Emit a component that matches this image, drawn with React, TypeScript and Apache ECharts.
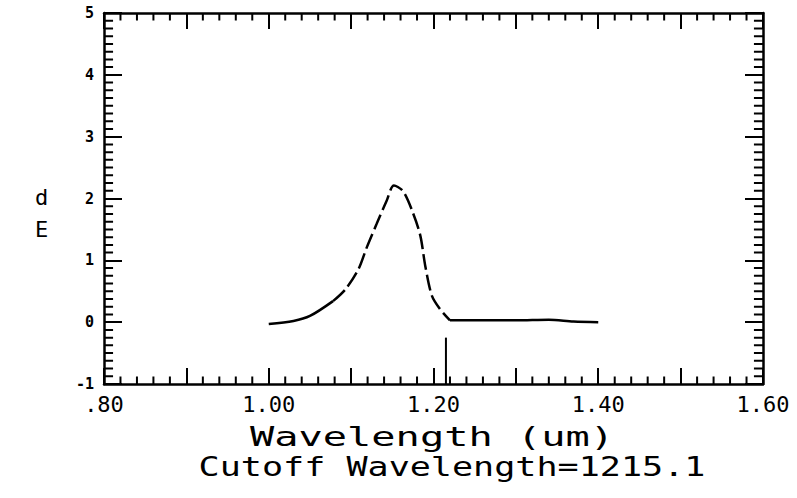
import React, { useEffect, useRef } from "react";
import * as echarts from "echarts";

const wavelength = [1.0, 1.03, 1.05, 1.078, 1.093, 1.109, 1.119, 1.131, 1.143, 1.152, 1.163, 1.175, 1.184, 1.19, 1.198, 1.208, 1.22, 1.26, 1.3, 1.34, 1.37, 1.4];
const dE = [-0.03, 0.02, 0.1, 0.34, 0.53, 0.86, 1.21, 1.59, 1.96, 2.21, 2.12, 1.77, 1.4, 0.91, 0.43, 0.21, 0.03, 0.03, 0.03, 0.04, 0.01, 0.0];
const cutoffUm = 1.2151;
const cutoffMarkTop = -0.25;
const xTickValues = [0.8, 1.0, 1.2, 1.4, 1.6];
const xTickLabels = [".80", "1.00", "1.20", "1.40", "1.60"];
const yLabelLines = ["d", "E"];
const xTitle = "Wavelength (um)";
const subTitle = "Cutoff Wavelength=1215.1";

const X_MIN = 0.8;
const X_MAX = 1.6;
const Y_MIN = -1;
const Y_MAX = 5;
const X_MINOR_STEPS = 40; // 0.02 per minor tick
const Y_MINOR_STEPS = 48; // 0.125 per minor tick
const X_MINOR_LEN = 0.12; // in y units (~7px)
const Y_MINOR_LEN = 0.011; // in x units (~9px)

const FONT = "DejaVu Sans Mono";

export default function App() {
  const ref = useRef<HTMLDivElement>(null);
  useEffect(() => {
    if (!ref.current) return;
    const chart = echarts.init(ref.current, undefined, { renderer: "svg" });
    const pts = wavelength.map((x, i) => [x, dE[i]]);
    const solidA = pts.slice(0, 4);
    const dashed = pts.slice(3, 17);
    const solidB = pts.slice(16);
    const xFmt = (v: number) => {
      const i = xTickValues.findIndex((t) => Math.abs(t - v) < 1e-6);
      return i >= 0 ? xTickLabels[i] : "";
    };

    const xMinor: number[] = [];
    for (let i = 1; i < X_MINOR_STEPS; i++) {
      if (i % 5 === 0) continue;
      xMinor.push(X_MIN + ((X_MAX - X_MIN) * i) / X_MINOR_STEPS);
    }
    const yMinor: number[] = [];
    for (let i = 1; i < Y_MINOR_STEPS; i++) {
      if (i % 8 === 0) continue;
      yMinor.push(Y_MIN + ((Y_MAX - Y_MIN) * i) / Y_MINOR_STEPS);
    }

    const segs: any[] = [];
    xMinor.forEach((v) => {
      segs.push([v, Y_MIN], [v, Y_MIN + X_MINOR_LEN], "-");
      segs.push([v, Y_MAX], [v, Y_MAX - X_MINOR_LEN], "-");
    });
    yMinor.forEach((v) => {
      segs.push([X_MIN, v], [X_MIN + Y_MINOR_LEN, v], "-");
      segs.push([X_MAX, v], [X_MAX - Y_MINOR_LEN, v], "-");
    });

    const tickStyle = { color: "#000", width: 2 };
    const mkX = (position: string, labels: boolean) => ({
      type: "value" as const,
      min: X_MIN,
      max: X_MAX,
      interval: 0.1,
      position,
      axisLine: { show: true, onZero: false, lineStyle: { color: "#000", width: 2.5 } },
      splitLine: { show: false },
      axisTick: { show: true, inside: true, length: 16, lineStyle: tickStyle },
      axisLabel: labels
        ? {
            show: true,
            formatter: xFmt,
            color: "#000",
            fontFamily: FONT,
            fontSize: 22,
            margin: 9,
            showMinLabel: true,
            showMaxLabel: true,
          }
        : { show: false },
    });
    const mkY = (position: string, labels: boolean) => ({
      type: "value" as const,
      min: Y_MIN,
      max: Y_MAX,
      interval: 1,
      position,
      axisLine: { show: true, onZero: false, lineStyle: { color: "#000", width: 2.5 } },
      splitLine: { show: false },
      axisTick: { show: true, inside: true, length: 18, lineStyle: tickStyle },
      axisLabel: labels
        ? {
            show: true,
            color: "#000",
            fontFamily: FONT,
            fontWeight: "bold",
            fontSize: 15,
            margin: 10,
          }
        : { show: false },
    });
    const lineStyleBase = { color: "#000", width: 2.5 };
    chart.setOption({
      animation: false,
      backgroundColor: "#fff",
      grid: { left: 104, right: 34, top: 13, bottom: 114 },
      xAxis: [mkX("bottom", true), mkX("top", false)],
      yAxis: [mkY("left", true), mkY("right", false)],
      series: [
        {
          type: "line",
          data: segs,
          symbol: "none",
          connectNulls: false,
          silent: true,
          lineStyle: { color: "#000", width: 2 },
        },
        {
          type: "line",
          data: solidA,
          smooth: 0.3,
          symbol: "none",
          lineStyle: lineStyleBase,
        },
        {
          type: "line",
          data: dashed,
          smooth: 0.3,
          symbol: "none",
          lineStyle: { ...lineStyleBase, type: [16, 5] },
        },
        {
          type: "line",
          data: solidB,
          smooth: 0.3,
          symbol: "none",
          lineStyle: lineStyleBase,
        },
        {
          type: "line",
          data: [
            [cutoffUm, Y_MIN],
            [cutoffUm, cutoffMarkTop],
          ],
          symbol: "none",
          lineStyle: { color: "#000", width: 2 },
        },
      ],
      graphic: [
        {
          type: "text",
          left: 35,
          top: 186,
          style: { text: yLabelLines[0], font: `22px '${FONT}'`, fill: "#000" },
        },
        {
          type: "text",
          left: 35,
          top: 218,
          style: { text: yLabelLines[1], font: `22px '${FONT}'`, fill: "#000" },
        },
        {
          type: "text",
          x: 432,
          y: 437,
          scaleX: 1.55,
          style: { text: xTitle, font: `26px '${FONT}'`, fill: "#000", align: "center", verticalAlign: "middle" },
        },
        {
          type: "text",
          x: 452,
          y: 467,
          scaleX: 1.35,
          style: { text: subTitle, font: `26px '${FONT}'`, fill: "#000", align: "center", verticalAlign: "middle" },
        },
      ],
    });
    return () => chart.dispose();
  }, []);
  return <div ref={ref} style={{ width: 797, height: 498, position: "absolute", left: 0, top: 0 }} />;
}
